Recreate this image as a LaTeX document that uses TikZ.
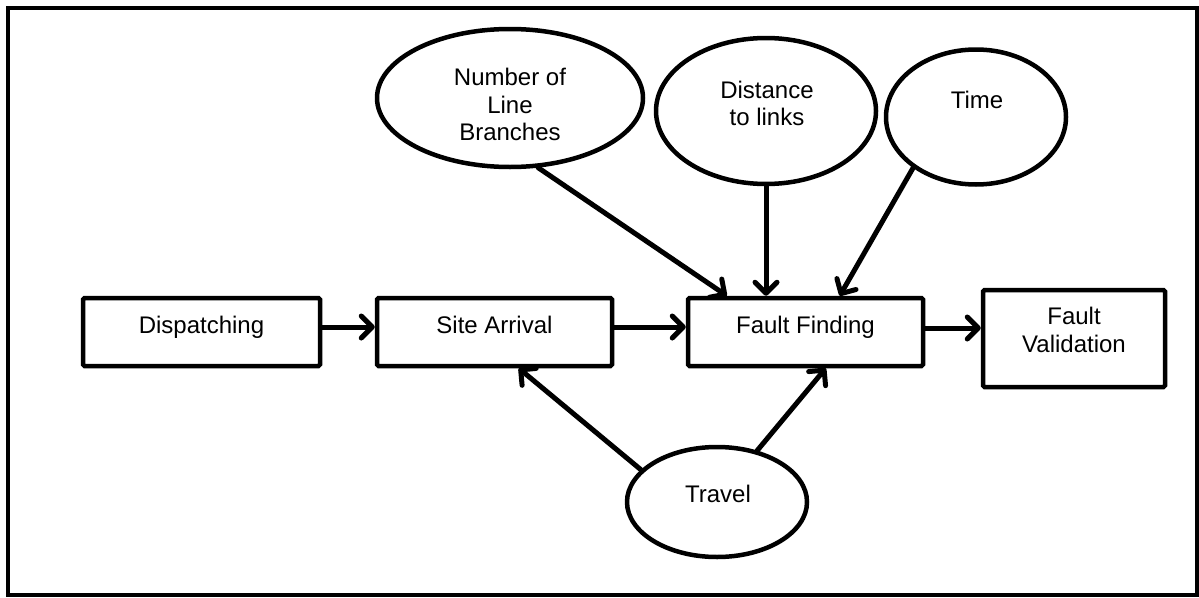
\documentclass[tikz,border=0pt]{standalone}
\usepackage{fontspec}
\setmainfont{Liberation Sans}
\usetikzlibrary{shapes.geometric,arrows.meta}
\begin{document}
\begin{tikzpicture}[x=1pt,y=-1pt,
  every node/.style={font=\fontsize{24}{27.5}\selectfont},
  boxnode/.style={draw,line width=4.5pt,rounded corners=1.5pt,inner sep=0pt,minimum width=#1},
  ovalnode/.style={draw,ellipse,line width=4.5pt,inner sep=0pt},
  lbl/.style={anchor=base,inner sep=0pt},
  mlbl/.style={align=center,inner sep=0pt},
  arr/.style={line width=5pt,line cap=round,line join=round,-{Straight Barb[length=11pt,width=22pt,line cap=round,line join=round]}}
]
\useasboundingbox (0,0) rectangle (1199,597);
\draw[line width=4pt] (8,8) rectangle (1197,594.5);

% boxes
\node[boxnode=237pt,minimum height=68pt] (disp) at (201.5,332) {};
\node[boxnode=235pt,minimum height=68pt] (site) at (494.5,332) {};
\node[boxnode=235pt,minimum height=68pt] (ff) at (805.5,332) {};
\node[boxnode=182pt,minimum height=97pt] (fv) at (1074,338.5) {};
\node[lbl] (dispT) at (201.5,333) {Dispatching};
\node[lbl] (siteT) at (494.5,333) {Site Arrival};
\node[lbl] (ffT) at (805.5,333) {Fault Finding};
\node[mlbl] (fvT) at (1074,330) {Fault\\Validation};

% ellipses
\node[ovalnode,minimum width=266pt,minimum height=138pt] (nlb) at (510,98) {};
\node[ovalnode,minimum width=220pt,minimum height=146pt] (dist) at (766,111) {};
\node[ovalnode,minimum width=180pt,minimum height=135pt] (time) at (976,117) {};
\node[ovalnode,minimum width=180pt,minimum height=110pt] (travel) at (717,502) {};
\node[mlbl] (nlbT) at (510,104.5) {Number of\\Line\\Branches};
\node[mlbl] (distT) at (767,103.6) {Distance\\to links};
\node[lbl] (timeT) at (977,108.6) {Time};
\node[lbl] (travelT) at (718,502) {Travel};

% connectors
\coordinate (d1) at ([yshift=5pt]disp.east);
\draw[arr] (d1) -- (d1 -| site.west);
\coordinate (s1) at ([yshift=5pt]site.east);
\draw[arr] (s1) -- (s1 -| ff.west);
\coordinate (f1) at ([yshift=4pt]ff.east);
\draw[arr] (f1) -- (f1 -| fv.west);
\draw[arr] (nlb.-68) -- ([xshift=41pt]ff.north west);
\draw[arr] (dist.south) -- (dist.south |- ff.north);
\draw[arr] (time.219) -- ([xshift=154pt]ff.north west);
\draw[arr] (travel.157) -- ([xshift=144pt]site.south west);
\draw[arr] (travel.52) -- ([xshift=140pt]ff.south west);
\end{tikzpicture}
\end{document}
